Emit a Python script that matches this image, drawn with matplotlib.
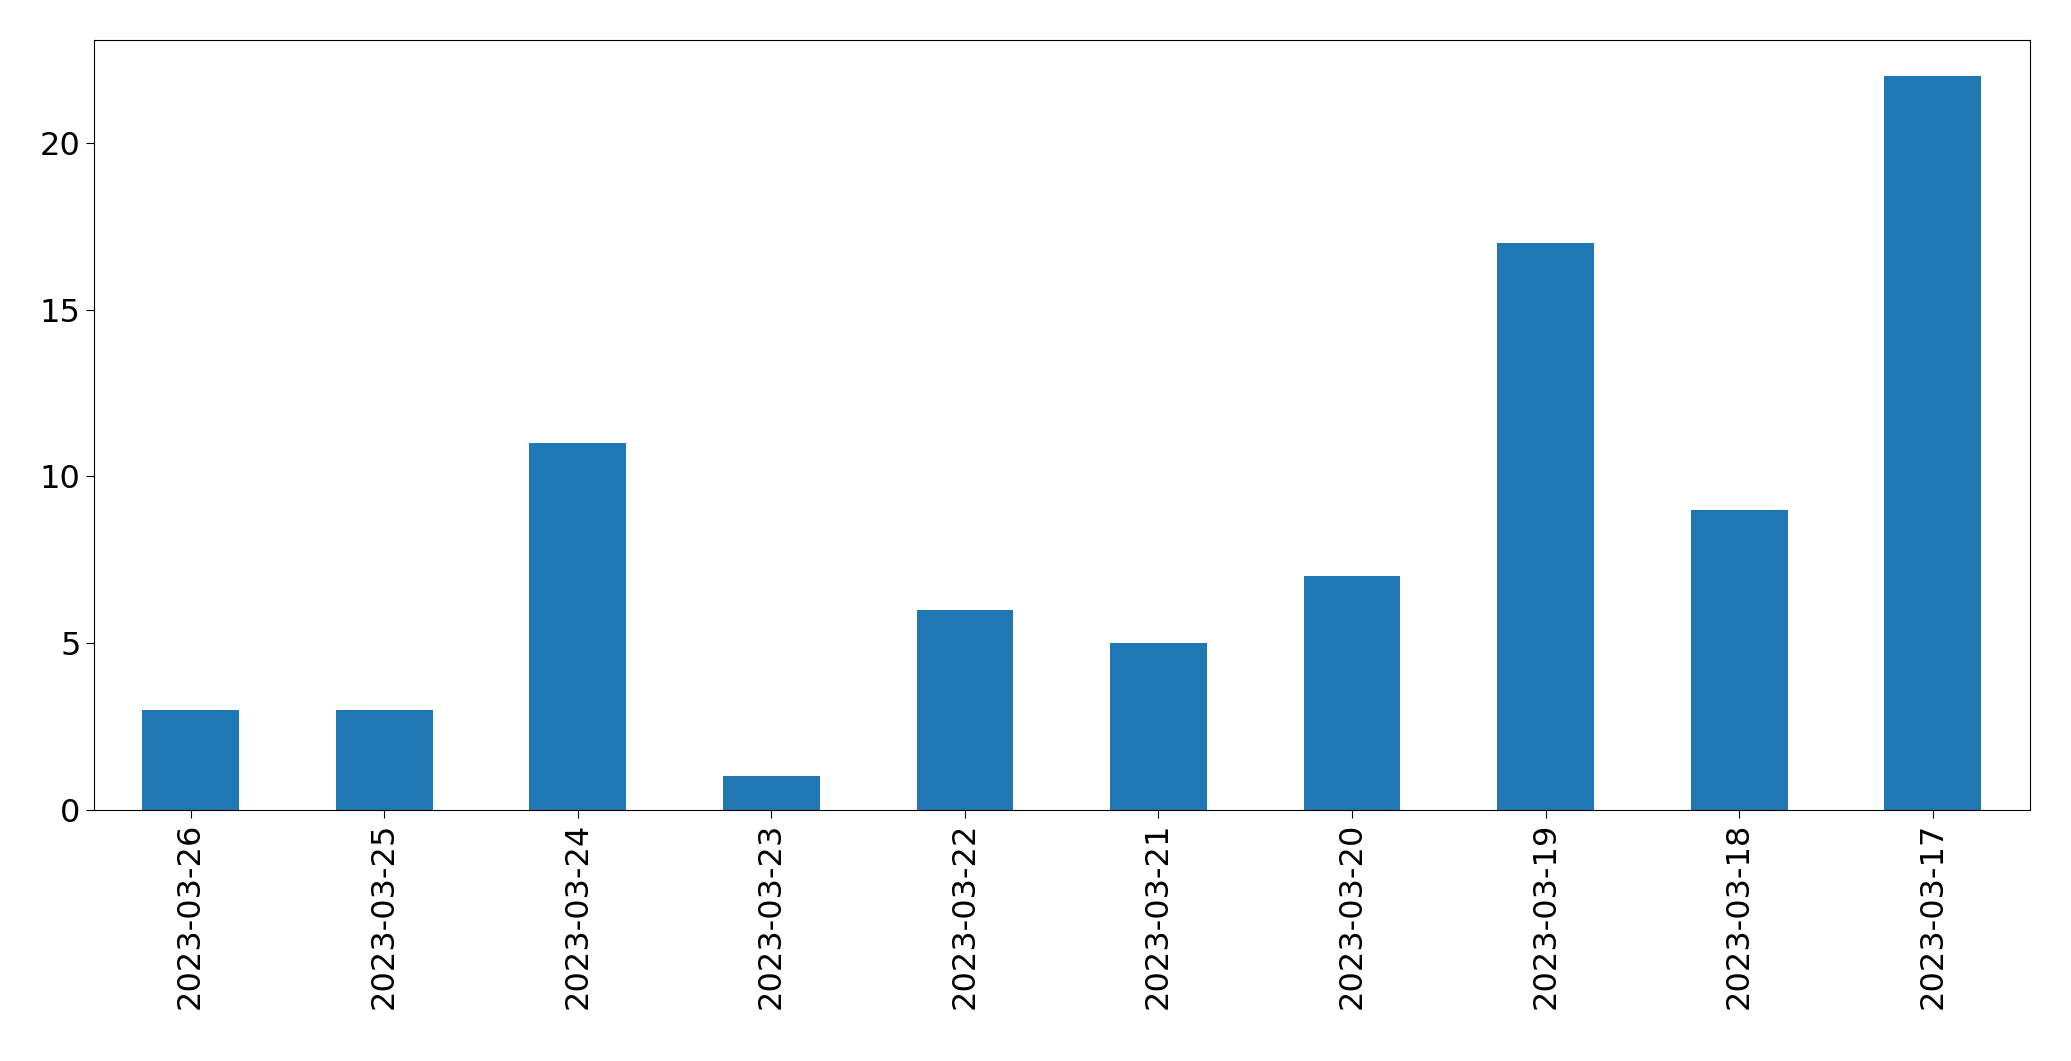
import matplotlib
matplotlib.use("Agg")
import matplotlib.pyplot as plt

dates = ["2023-03-26", "2023-03-25", "2023-03-24", "2023-03-23", "2023-03-22",
         "2023-03-21", "2023-03-20", "2023-03-19", "2023-03-18", "2023-03-17"]
counts = [3, 3, 11, 1, 6, 5, 7, 17, 9, 22]

fig, ax = plt.subplots(figsize=(20.71, 10.61), dpi=100)
x = range(len(dates))
ax.bar(x, counts, width=0.5, color="#1f77b4")
ax.set_xticks(list(x))
ax.set_xticklabels(dates, rotation=90)
ax.set_xlim(-0.5, len(dates) - 0.5)
ax.set_ylim(0, max(counts) * 1.05)
ax.set_yticks([0, 5, 10, 15, 20])
ax.tick_params(labelsize=23, length=6)
fig.subplots_adjust(left=0.0453, right=0.980, top=0.9625, bottom=0.237)
fig.savefig("out.png", dpi=100)
